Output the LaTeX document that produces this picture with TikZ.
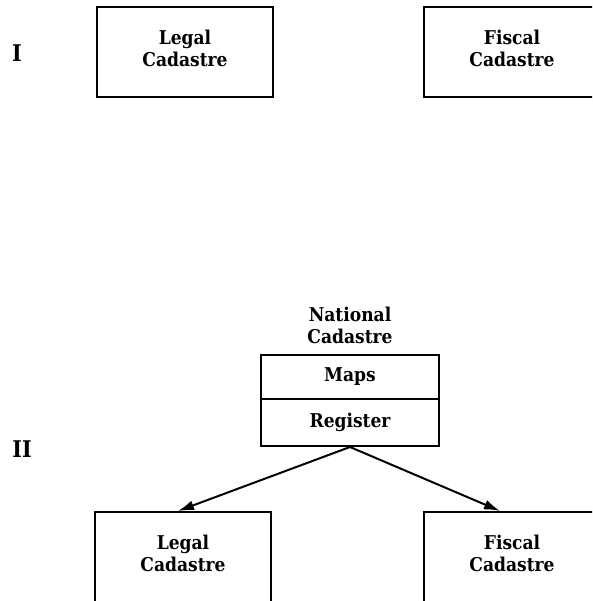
\documentclass[tikz,border=0pt]{standalone}
\usepackage{fontspec}
\setmainfont{DejaVu Serif Condensed}
\usetikzlibrary{arrows.meta}
\begin{document}
\begin{tikzpicture}[x=1pt,y=-1pt,
  lbl/.style={font=\bfseries\fontsize{19}{22}\selectfont, align=center, inner sep=0pt},
  box/.style={lbl, draw, line width=2pt, minimum width=176pt, minimum height=90pt, text depth=8pt},
  cell/.style={lbl, draw, line width=2pt, minimum width=178pt},
  stage/.style={font=\bfseries\fontsize{23}{26}\selectfont, inner sep=0pt},
  link/.style={line width=2pt, -{Latex[length=16pt,width=10pt]}}
]
% canvas
\path[use as bounding box, fill=white] (0,0) rectangle (592,601);
\clip (0,0) rectangle (592,601);

% stage I: two separate cadastres
\node[stage] (one) at (17,53) {I};
\node[box] (legalA)  at (185,52) {Legal\\Cadastre};
\node[box] (fiscalA) at (512,52) {Fiscal\\Cadastre};

% stage II: a national cadastre feeding both
\node[stage] (two) at (22,449) {II};
\node[lbl] (natl) at (350,325) {National\\Cadastre};
\node[cell, minimum height=44pt] (maps) at (350,377) {Maps};
\node[cell, minimum height=47pt] (reg)  at (350,422.5) {Register};

\node[box] (legalB)  at (183,557) {Legal\\Cadastre};
\node[box] (fiscalB) at (512,557) {Fiscal\\Cadastre};

\draw[link] (reg.south) -- ([xshift=-5pt]legalB.north);
\draw[link] (reg.south) -- ([xshift=-12pt]fiscalB.north);
\end{tikzpicture}
\end{document}
